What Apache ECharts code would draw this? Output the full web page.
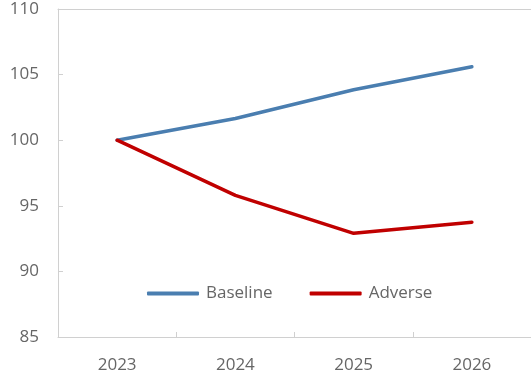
<!DOCTYPE html>
<html>
<head>
<meta charset="utf-8">
<script src="https://cdn.jsdelivr.net/npm/echarts@6/dist/echarts.min.js"></script>
<style>
  html, body { margin: 0; padding: 0; background: #fff; }
  #chart { width: 531px; height: 379px; }
</style>
</head>
<body>
<div id="chart"></div>
<script>
// Index levels (2023 = 100) under two scenarios
const years = ['2023', '2024', '2025', '2026'];
const baseline = [100, 101.65, 103.85, 105.6];
const adverse = [100, 95.8, 92.9, 93.75];
const yTicks = { min: 85, max: 110, step: 5 };

const textColor = '#666666';
const lineColor = '#d0d0d0';
const font = '"Open Sans", "Noto Sans", sans-serif';

const chart = echarts.init(document.getElementById('chart'), null, { renderer: 'canvas' });
chart.setOption({
  animation: false,
  backgroundColor: '#ffffff',
  grid: { left: 58, top: 9, width: 478, height: 328 },
  legend: {
    left: 147, top: 285, padding: 0,
    icon: 'roundRect', itemWidth: 52, itemHeight: 4, itemGap: 37,
    textStyle: { color: textColor, fontSize: 17, fontFamily: font, padding: [0, 0, 0, 2] },
    data: ['Baseline', 'Adverse']
  },
  xAxis: [
    {
      type: 'category',
      data: years,
      boundaryGap: true,
      axisLine: { lineStyle: { color: lineColor, width: 1 } },
      axisTick: { show: true, inside: true, length: 5, lineStyle: { color: lineColor } },
      axisLabel: { color: textColor, fontSize: 17, fontFamily: font, margin: 20 }
    },
    {
      // plain frame line along the top of the plot
      type: 'category',
      data: years,
      position: 'top',
      axisLine: { show: true, lineStyle: { color: lineColor, width: 1 } },
      axisTick: { show: false },
      axisLabel: { show: false }
    }
  ],
  yAxis: {
    type: 'value',
    min: yTicks.min, max: yTicks.max, interval: yTicks.step,
    splitLine: { show: false },
    axisLine: { show: true, lineStyle: { color: lineColor, width: 1 } },
    axisTick: { show: true, inside: true, length: 5, lineStyle: { color: lineColor } },
    axisLabel: { color: textColor, fontSize: 17, fontFamily: font, margin: 19 }
  },
  series: [
    {
      name: 'Baseline', type: 'line', data: baseline,
      symbol: 'none', smooth: false,
      lineStyle: { color: '#4a7eb0', width: 3.5, cap: 'round' },
      itemStyle: { color: '#4a7eb0' }
    },
    {
      name: 'Adverse', type: 'line', data: adverse,
      symbol: 'none', smooth: false,
      lineStyle: { color: '#c00000', width: 3.5, cap: 'round' },
      itemStyle: { color: '#c00000' }
    }
  ]
});
</script>
</body>
</html>
